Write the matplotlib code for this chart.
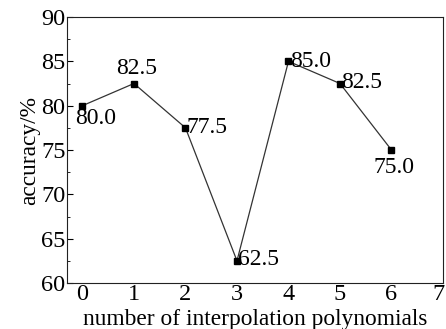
import matplotlib
matplotlib.use('Agg')
import matplotlib.pyplot as plt
from matplotlib.ticker import MultipleLocator
from matplotlib.transforms import ScaledTranslation

plt.rcParams['font.family'] = ['Liberation Serif', 'DejaVu Serif']

# 数据
n_poly = [0, 1, 2, 3, 4, 5, 6]
accuracy = [80.0, 82.5, 77.5, 62.5, 85.0, 82.5, 75.0]
labels = ['80.0', '82.5', '77.5', '62.5', '85.0', '82.5', '75.0']
x_ticks = [0, 1, 2, 3, 4, 5, 6, 7]

# 每个标注的偏移(点)和对齐方式
offsets = [(-5, -2), (2, 3), (1, 0), (1, 1), (1, 0), (1, 1), (2, -5)]
aligns = [('left', 'top'), ('center', 'bottom'), ('left', 'center'),
          ('left', 'center'), ('left', 'center'), ('left', 'center'),
          ('center', 'top')]

fig = plt.figure(figsize=(4.46, 3.29), dpi=100)
ax = fig.add_axes([67 / 446, 1 - 283 / 329, (443 - 67) / 446, (283 - 17) / 329])

ax.plot(n_poly, accuracy, color='#333333', linewidth=0.9,
        marker='s', markersize=4.5, markerfacecolor='black', markeredgecolor='black')

for x, y, t, off, al in zip(n_poly, accuracy, labels, offsets, aligns):
    ax.annotate(t, (x, y), xytext=off, textcoords='offset points',
                ha=al[0], va=al[1], fontsize=17)

ax.set_xlim(-0.3, 7)
ax.set_ylim(60, 90)
ax.set_xticks(x_ticks)
ax.yaxis.set_major_locator(MultipleLocator(5))
ax.yaxis.set_minor_locator(MultipleLocator(2.5))
ax.tick_params(axis='y', which='both', direction='in', labelsize=17.5, pad=1)
ax.tick_params(axis='y', which='major', length=4)
ax.tick_params(axis='y', which='minor', length=2.5)
ax.tick_params(axis='x', length=0, labelsize=17.5, pad=1)

# 最后一个刻度标签"7"稍微左移，避免被裁掉
last = ax.xaxis.get_major_ticks()[-1].label1
last.set_transform(last.get_transform() + ScaledTranslation(-3 / 72, 0, fig.dpi_scale_trans))

for s in ax.spines.values():
    s.set_linewidth(0.8)
    s.set_color('#222222')

ax.set_xlabel('number of interpolation polynomials', fontsize=16.8, labelpad=2.5)
ax.set_ylabel('accuracy/%', fontsize=16.8, labelpad=1)

fig.savefig('out.png', dpi=100)
